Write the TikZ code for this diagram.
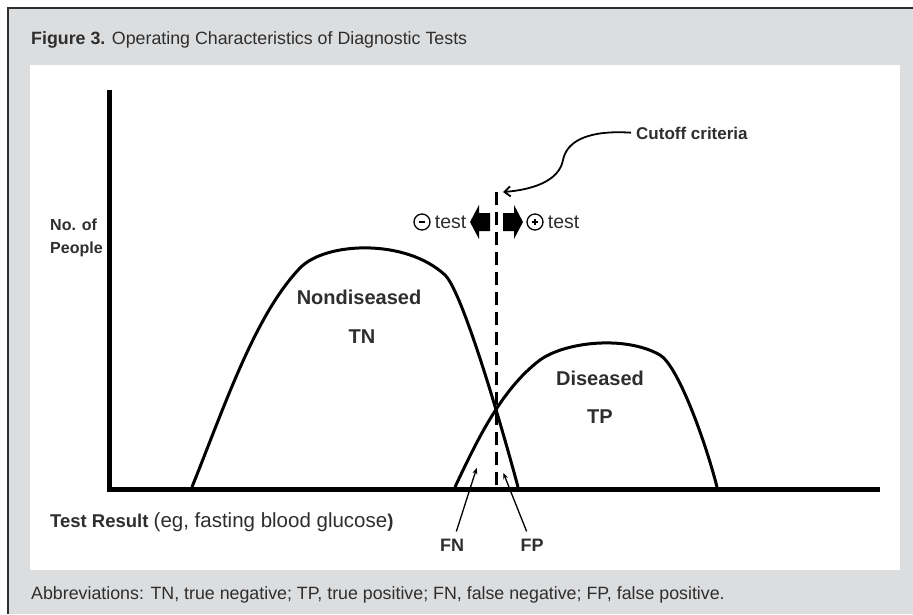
\documentclass[tikz,border=0pt]{standalone}
\usepackage{fontspec}
\setmainfont{Liberation Sans}
\usepackage{tikz}
\usetikzlibrary{arrows.meta}
\usetikzlibrary{positioning}
\definecolor{panelgray}{HTML}{DCDDDF}
\definecolor{inkgray}{HTML}{2E2E2E}
\begin{document}
\begin{tikzpicture}[x=1pt,y=-1pt,>=Stealth,
  capt/.style={font=\fontsize{17.8}{21}\selectfont,text=inkgray,inner sep=0pt},
  lbl/.style={font=\bfseries\fontsize{20}{24}\selectfont,text=inkgray},
  sidelbl/.style={font=\bfseries\fontsize{17}{23}\selectfont,text=inkgray,inner sep=0pt},
  txt/.style={font=\fontsize{19.5}{22}\selectfont,text=inkgray,inner sep=1pt},
  axis/.style={line width=5pt},
  curve/.style={line width=3pt},
  cutline/.style={line width=3pt,dash pattern=on 13pt off 7pt},
  sign/.style={circle,draw,line width=1.3pt,minimum size=16pt,inner sep=0pt},
  ptr/.style={->,line width=1.3pt,shorten >=1pt,>={Stealth[length=6pt,width=5pt]}}]
\useasboundingbox (0,0) rectangle (913,614);
% frame and panel
\fill[panelgray] (8,8) rectangle (913,614);
\draw[inkgray,line width=2pt] (8,614) -- (8,8) -- (913,8);
\fill[white] (30,65) rectangle (900,570);
\node[capt,anchor=west] (title) at (31,40) {\textbf{Figure 3.} Operating Characteristics of Diagnostic Tests};
\node[capt,anchor=west] (abbr) at (31,595) {Abbreviations: TN, true negative; TP, true positive; FN, false negative; FP, false positive.};
% axes
\coordinate (ytop) at (109.5,90);
\coordinate (origin) at (109.5,489.5);
\coordinate (xend) at (880,489.5);
\draw[axis] (ytop) -- (origin) -- (xend);
\node[sidelbl,font=\bfseries\fontsize{16}{23}\selectfont,anchor=west,align=left] (people) at (50,238) {No. of\\People};
\node[sidelbl,font=\bfseries\fontsize{18.5}{22}\selectfont,anchor=west] (result) at (50,522) {Test Result \mdseries\fontsize{20.5}{22}\selectfont(eg, fasting blood glucose\bfseries\fontsize{18.5}{22}\selectfont)};
% distributions
\draw[curve] (192,487) .. controls (225,405) and (255,315) .. (300,268) .. controls (325,242) and (405,238) .. (445,275) .. controls (462,291) and (500,420) .. (518,487);
\draw[curve] (455,487) .. controls (475,445) and (500,390) .. (540,360) .. controls (565,342) and (625,335) .. (660,355) .. controls (678,366) and (705,440) .. (717,487);
\node[lbl] (nondis) at (359,297) {Nondiseased};
\node[lbl] (tn) at (362,337) {TN};
\node[lbl] (dis) at (600,378) {Diseased};
\node[lbl] (tp) at (600,417) {TP};
% cutoff
\coordinate (cuttop) at (496,192);
\coordinate (cutbot) at (496,489);
\coordinate (cuthead) at (503,192);
\draw[cutline] (cuttop) -- (cutbot);
\node[sidelbl,anchor=west] (cutoff) at (636,133) {Cutoff criteria};
\draw[->,line width=1.8pt,shorten <=5pt,>={Straight Barb[length=6pt,width=10pt]}] (cutoff.west) .. controls (590,130) and (567,140) .. (563,160) .. controls (559,182) and (530,190) .. (cuthead);
% test direction
\node[sign] (neg) at (422,222) {};
\draw[line width=1.4pt] ([xshift=-3pt]neg.center) -- ([xshift=3pt]neg.center);
\node[txt,right=3pt of neg] (negtest) {test};
\fill (470,222) -- (479,205) -- (479,213) -- (490,213) -- (490,231) -- (479,231) -- (479,239) -- cycle;
\fill (523,222) -- (514,205) -- (514,213) -- (503,213) -- (503,231) -- (514,231) -- (514,239) -- cycle;
\node[sign] (pos) at (535,222) {};
\draw[line width=1.4pt] ([xshift=-3pt]pos.center) -- ([xshift=3pt]pos.center) ([yshift=-3pt]pos.center) -- ([yshift=3pt]pos.center);
\node[txt,right=3pt of pos] (postest) {test};
% error regions
\node[lbl,font=\bfseries\fontsize{18}{20}\selectfont,outer sep=4pt] (fn) at (452,545) {FN};
\node[lbl,font=\bfseries\fontsize{18}{20}\selectfont,outer sep=4pt] (fp) at (532,545) {FP};
\coordinate (fntip) at (477,467);
\coordinate (fptip) at (503,472);
\draw[ptr] (fn) -- (fntip);
\draw[ptr] (fp) -- (fptip);
\end{tikzpicture}
\end{document}
